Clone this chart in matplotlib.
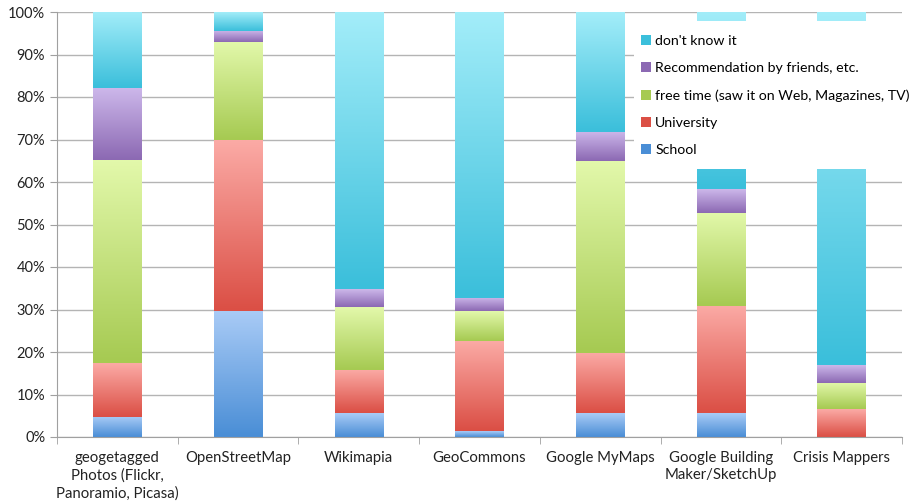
import numpy as np
import matplotlib
matplotlib.use("Agg")
import matplotlib.pyplot as plt
from matplotlib.colors import LinearSegmentedColormap
from matplotlib.patches import Rectangle, Patch

plt.rcParams['font.family'] = ['Lato', 'DejaVu Sans']

categories = ["geogetagged\nPhotos (Flickr,\nPanoramio, Picasa)", "OpenStreetMap", "Wikimapia",
              "GeoCommons", "Google MyMaps", "Google Building\nMaker/SketchUp", "Crisis Mappers"]
series = ["School", "University", "free time (saw it on Web, Magazines, TV)",
          "Recommendation by friends, etc.", "don't know it"]
school = [4.8, 29.7, 5.6, 1.4, 5.6, 5.6, 0.0]
university = [12.7, 40.2, 10.2, 21.2, 14.2, 25.3, 6.5]
free_time = [47.7, 23.1, 14.8, 7.0, 45.1, 21.9, 6.3]
recommendation = [16.8, 2.6, 4.2, 3.1, 6.9, 5.5, 4.2]
dont_know = [18.0, 4.4, 65.2, 67.3, 28.2, 42.0, 83.0]

# (top colour, bottom colour) for the vertical gradient of each segment
grad = [("#a9cbf6", "#4a8ed6"),
        ("#fbaaa5", "#db4f45"),
        ("#e2f8aa", "#a6ca52"),
        ("#ccb7ea", "#8c69b3"),
        ("#a3edf9", "#3bbfdb")]

fig = plt.figure(figsize=(9.12, 5.04), dpi=100)
ax = fig.add_axes([57 / 912, 67 / 504, 845 / 912, 425 / 504])

x = np.arange(len(categories))
bottom = np.zeros(len(categories))
gy = np.linspace(0, 1, 64).reshape(-1, 1)
for vals, name, (top_c, bot_c) in zip([school, university, free_time, recommendation, dont_know], series, grad):
    bars = ax.bar(x, vals, 0.4, bottom=bottom, color=bot_c, zorder=2, linewidth=0)
    cmap = LinearSegmentedColormap.from_list(name, [bot_c, top_c])
    for b in bars:
        if b.get_height() <= 0:
            continue
        bx, by, bw, bh = b.get_x(), b.get_y(), b.get_width(), b.get_height()
        ax.imshow(gy, cmap=cmap, extent=[bx, bx + bw, by, by + bh], origin='lower',
                  aspect='auto', zorder=2.1, interpolation='bilinear')
    bottom += np.array(vals)

ax.set_xlim(-0.5, len(categories) - 0.5)
ax.set_ylim(0, 100)
ax.set_yticks(np.arange(0, 101, 10))
ax.set_yticklabels([f"{v}%" for v in range(0, 101, 10)])
ax.set_xticks(x)
ax.set_xticklabels(categories, linespacing=1.3)
ax.set_xticks(np.arange(-0.5, len(categories), 1), minor=True)
ax.tick_params(axis='x', which='major', length=0, labelsize=10.7, pad=10, colors='#222222')
ax.tick_params(axis='x', which='minor', length=5, color='#a0a0a0')
ax.tick_params(axis='y', length=5, color='#a0a0a0', labelsize=10.5, labelcolor='#222222')
ax.grid(axis='y', color='#b4b4b4', linewidth=1, zorder=1)
for s in ['top', 'right']:
    ax.spines[s].set_visible(False)
for s in ['left', 'bottom']:
    ax.spines[s].set_color('#a0a0a0')

# white legend box covering part of the plot
ax.add_patch(Rectangle((0.683, 0.63), 0.33, 0.35, transform=ax.transAxes,
                       facecolor='white', edgecolor='none', zorder=5, clip_on=False))
handles = [Patch(facecolor=grad[i][1], edgecolor='none') for i in range(len(series))][::-1]
leg = ax.legend(handles, series[::-1], loc='upper left', bbox_to_anchor=(0.691, 0.946),
                frameon=False, fontsize=10.2, handlelength=0.7, handleheight=0.7,
                handletextpad=0.3, labelspacing=1.06, borderaxespad=0, borderpad=0)
leg.set_zorder(6)

fig.savefig("out.png", dpi=100)
